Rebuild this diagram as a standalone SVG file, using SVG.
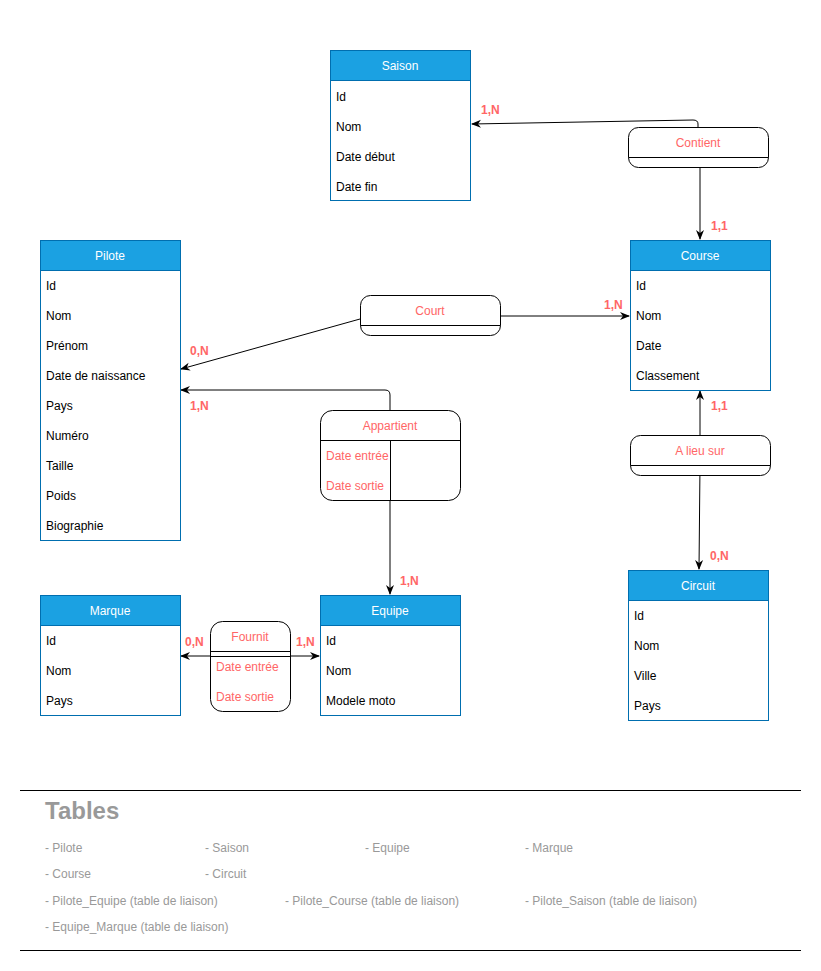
<svg xmlns="http://www.w3.org/2000/svg" width="821" height="971" viewBox="0 0 821 971">
  <style>
    text { font-family: Helvetica, "Liberation Sans", Arial, sans-serif; }
    .hdr { fill: #1ba1e2; stroke: #006eaf; stroke-width: 1; }
    .body { fill: #ffffff; stroke: #006eaf; stroke-width: 1; }
    .htxt { fill: #ffffff; font-size: 12px; text-anchor: middle; dominant-baseline: central; }
    .row { fill: #000000; font-size: 12px; dominant-baseline: central; }
    .rel { fill: #ffffff; stroke: #000000; stroke-width: 1; }
    .relline { stroke: #000000; stroke-width: 1; fill: none; }
    .rtxt { fill: #ff6666; font-size: 12px; text-anchor: middle; dominant-baseline: central; }
    .ratt { fill: #ff6666; font-size: 12px; dominant-baseline: central; }
    .card { fill: #ff6666; font-size: 12px; font-weight: bold; dominant-baseline: central; }
    .edge { stroke: #000000; stroke-width: 1; fill: none; marker-end: url(#arr); }
    .legend { fill: #999999; font-size: 12px; dominant-baseline: central; }
  </style>
  <defs>
    <marker id="arr" viewBox="0 0 10 10" refX="9" refY="5" markerWidth="10" markerHeight="10" markerUnits="userSpaceOnUse" orient="auto-start-reverse">
      <path d="M0,1 L10,5 L0,9 L3,5 Z" fill="#000"/>
    </marker>
  </defs>
  <rect width="821" height="971" fill="#ffffff"/>

  <!-- connectors -->
  <g id="connectors">
    <path class="edge" d="M698,127 L698,124 Q698,120 693,120 L472,124"/>
    <path class="edge" d="M700,157 L700,239"/>
    <path class="edge" d="M360,319 L181,369"/>
    <path class="edge" d="M500,316 L629,316"/>
    <path class="edge" d="M390,410 L390,395 Q390,390 385,390 L181,390"/>
    <path class="edge" d="M390,440 L390,594"/>
    <path class="edge" d="M700,435 L700,391"/>
    <path class="edge" d="M700,465 L699,569"/>
    <path class="edge" d="M181,656 L319,656" marker-start="url(#arr)"/>
    <text class="card" x="481" y="110">1,N</text>
    <text class="card" x="711" y="226">1,1</text>
    <text class="card" x="190" y="351">0,N</text>
    <text class="card" x="604" y="305">1,N</text>
    <text class="card" x="190" y="406">1,N</text>
    <text class="card" x="400" y="581">1,N</text>
    <text class="card" x="711" y="406">1,1</text>
    <text class="card" x="710" y="556">0,N</text>
    <text class="card" x="185" y="642">0,N</text>
    <text class="card" x="296" y="642">1,N</text>
  </g>

  <!-- entity: Saison -->
  <g id="saison">
    <rect class="body" x="330.5" y="50.5" width="140" height="150"/>
    <rect class="hdr" x="330.5" y="50.5" width="140" height="30"/>
    <text class="htxt" x="400" y="66">Saison</text>
    <text class="row" x="336" y="97">Id</text>
    <text class="row" x="336" y="127">Nom</text>
    <text class="row" x="336" y="157">Date début</text>
    <text class="row" x="336" y="187">Date fin</text>
  </g>

  <!-- entity: Pilote -->
  <g id="pilote">
    <rect class="body" x="40.5" y="240.5" width="140" height="300"/>
    <rect class="hdr" x="40.5" y="240.5" width="140" height="30"/>
    <text class="htxt" x="110" y="256">Pilote</text>
    <text class="row" x="46" y="286">Id</text>
    <text class="row" x="46" y="316">Nom</text>
    <text class="row" x="46" y="346">Prénom</text>
    <text class="row" x="46" y="376">Date de naissance</text>
    <text class="row" x="46" y="406">Pays</text>
    <text class="row" x="46" y="436">Numéro</text>
    <text class="row" x="46" y="466">Taille</text>
    <text class="row" x="46" y="496">Poids</text>
    <text class="row" x="46" y="526">Biographie</text>
  </g>

  <!-- entity: Course -->
  <g id="course">
    <rect class="body" x="630.5" y="240.5" width="140" height="150"/>
    <rect class="hdr" x="630.5" y="240.5" width="140" height="30"/>
    <text class="htxt" x="700" y="256">Course</text>
    <text class="row" x="636" y="286">Id</text>
    <text class="row" x="636" y="316">Nom</text>
    <text class="row" x="636" y="346">Date</text>
    <text class="row" x="636" y="376">Classement</text>
  </g>

  <!-- entity: Circuit -->
  <g id="circuit">
    <rect class="body" x="628.5" y="570.5" width="140" height="150"/>
    <rect class="hdr" x="628.5" y="570.5" width="140" height="30"/>
    <text class="htxt" x="698" y="586">Circuit</text>
    <text class="row" x="634" y="616">Id</text>
    <text class="row" x="634" y="646">Nom</text>
    <text class="row" x="634" y="676">Ville</text>
    <text class="row" x="634" y="706">Pays</text>
  </g>

  <!-- entity: Marque -->
  <g id="marque">
    <rect class="body" x="40.5" y="595.5" width="140" height="120"/>
    <rect class="hdr" x="40.5" y="595.5" width="140" height="30"/>
    <text class="htxt" x="110" y="611">Marque</text>
    <text class="row" x="46" y="641">Id</text>
    <text class="row" x="46" y="671">Nom</text>
    <text class="row" x="46" y="701">Pays</text>
  </g>

  <!-- entity: Equipe -->
  <g id="equipe">
    <rect class="body" x="320.5" y="595.5" width="140" height="120"/>
    <rect class="hdr" x="320.5" y="595.5" width="140" height="30"/>
    <text class="htxt" x="390" y="611">Equipe</text>
    <text class="row" x="326" y="641">Id</text>
    <text class="row" x="326" y="671">Nom</text>
    <text class="row" x="326" y="701">Modele moto</text>
  </g>

  <!-- relation: Contient -->
  <g id="contient">
    <rect class="rel" x="628.5" y="127.5" width="140" height="40" rx="10"/>
    <line class="relline" x1="628.5" y1="157.5" x2="768.5" y2="157.5"/>
    <text class="rtxt" x="698" y="143">Contient</text>
  </g>

  <!-- relation: Court -->
  <g id="court">
    <rect class="rel" x="360.5" y="295.5" width="140" height="40" rx="10"/>
    <line class="relline" x1="360.5" y1="325.5" x2="500.5" y2="325.5"/>
    <text class="rtxt" x="430" y="311">Court</text>
  </g>

  <!-- relation: Appartient -->
  <g id="appartient">
    <rect class="rel" x="320.5" y="410.5" width="140" height="90" rx="12"/>
    <line class="relline" x1="320.5" y1="440.5" x2="460.5" y2="440.5"/>
    <line class="relline" x1="390.5" y1="440.5" x2="390.5" y2="500.5"/>
    <text class="rtxt" x="390" y="426">Appartient</text>
    <text class="ratt" x="326" y="456">Date entrée</text>
    <text class="ratt" x="326" y="486">Date sortie</text>
  </g>

  <!-- relation: A lieu sur -->
  <g id="alieusur">
    <rect class="rel" x="630.5" y="435.5" width="140" height="40" rx="10"/>
    <line class="relline" x1="630.5" y1="465.5" x2="770.5" y2="465.5"/>
    <text class="rtxt" x="700" y="451">A lieu sur</text>
  </g>

  <!-- relation: Fournit -->
  <g id="fournit">
    <rect class="rel" x="210.5" y="621.5" width="80" height="90" rx="12"/>
    <line class="relline" x1="210.5" y1="651.5" x2="290.5" y2="651.5"/>
    <line class="relline" x1="210.5" y1="656.5" x2="290.5" y2="656.5"/>
    <text class="rtxt" x="250" y="637">Fournit</text>
    <text class="ratt" x="216" y="667">Date entrée</text>
    <text class="ratt" x="216" y="697">Date sortie</text>
  </g>

  <!-- table list -->
  <g id="tables">
    <line x1="20" y1="790.5" x2="801" y2="790.5" stroke="#000" stroke-width="1"/>
    <line x1="20" y1="950.5" x2="801" y2="950.5" stroke="#000" stroke-width="1"/>
    <text x="45" y="810" fill="#999999" font-size="24" font-weight="bold" dominant-baseline="central">Tables</text>
    <text class="legend" x="45" y="848">- Pilote</text>
    <text class="legend" x="205" y="848">- Saison</text>
    <text class="legend" x="365" y="848">- Equipe</text>
    <text class="legend" x="525" y="848">- Marque</text>
    <text class="legend" x="45" y="874">- Course</text>
    <text class="legend" x="205" y="874">- Circuit</text>
    <text class="legend" x="45" y="901">- Pilote_Equipe (table de liaison)</text>
    <text class="legend" x="285" y="901">- Pilote_Course (table de liaison)</text>
    <text class="legend" x="525" y="901">- Pilote_Saison (table de liaison)</text>
    <text class="legend" x="45" y="927">- Equipe_Marque (table de liaison)</text>
  </g>
</svg>
